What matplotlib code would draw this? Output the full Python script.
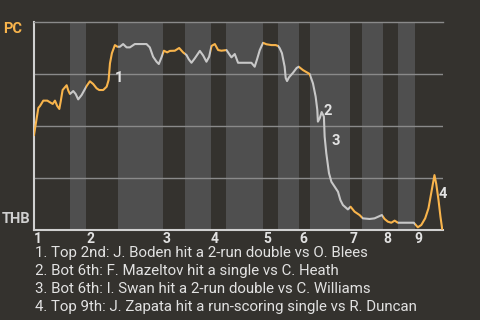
import matplotlib
matplotlib.use("Agg")
import matplotlib.pyplot as plt
import numpy as np

# win probability for PC (percent) against pitch number
pitch = [0, 2.9, 4.0, 6.2, 8.9, 11.1, 12.5, 14.0, 15.5, 16.9, 17.8, 19.1, 21.8, 22.9,
         24.0, 26.2, 27.8, 29.5, 31.8, 35.1, 37.3, 39.5, 41.8, 43.5, 46.2, 48.5, 49.8,
         50.7, 52.0, 54.0, 55.7, 57.3, 59.5, 61.8, 64.0, 67.3, 75.1, 77.3, 79.5, 81.8,
         83.3, 85.1, 86.7, 88.9, 90.7, 94.0, 96.9, 99.5, 101.8, 103.3, 105.1, 107.3,
         110.7, 112.9, 115.1, 116.9, 118.5, 120.7, 122.9, 125.1, 128.5, 130.7, 131.8,
         134.0, 136.2, 138.5, 145.1, 147.3, 148.9, 150.7, 152.9, 155.1, 158.5, 161.3,
         162.9, 164.0, 165.5, 167.3, 168.0, 168.9, 170.2, 172.9, 175.3, 176.7, 179.5,
         184.0, 186.2, 188.0, 189.1, 189.5, 190.7, 192.0, 193.5, 194.0, 195.1, 196.9,
         198.5, 200.7, 202.9, 204.5, 206.2, 209.5, 211.3, 214.0, 217.3, 219.5, 224.0,
         227.3, 232.2, 234.0, 236.2, 238.5, 240.7, 242.9, 247.3, 253.5, 256.2, 258.5,
         261.1, 263.3, 265.5, 267.3, 268.5, 270.0, 271.3, 272.5, 273.0]
wp = [45.7, 58.7, 59.6, 62.2, 62.2, 61.2, 60.6, 62.2, 59.6, 58.2, 61.7, 67.3, 69.6, 67.0,
      65.4, 66.8, 65.4, 62.8, 64.9, 69.2, 71.5, 70.2, 68.1, 67.3, 67.3, 68.9, 72.1,
      80.1, 85.0, 88.9, 88.1, 88.1, 89.4, 87.8, 87.8, 89.4, 89.4, 87.8, 83.3, 80.9,
      79.8, 83.0, 86.2, 85.4, 86.1, 86.2, 87.5, 85.4, 84.1, 82.1, 80.4, 82.5,
      86.1, 83.9, 80.9, 83.3, 88.5, 89.4, 86.5, 86.2, 86.5, 84.1, 83.0,
      84.6, 80.4, 80.4, 80.4, 78.5, 82.1, 86.5, 90.0, 89.3, 88.9, 88.9,
      88.5, 87.4, 85.0, 78.5, 73.1, 71.6, 73.4, 75.6, 77.9, 78.5, 76.9,
      75.0, 70.5, 64.1, 57.7, 52.1, 53.7, 56.7, 54.5, 44.9, 36.9, 27.3,
      23.2, 20.8, 18.4, 14.4, 12.0, 9.9, 11.2, 8.8, 7.2, 5.6, 5.3,
      5.6, 7.2, 5.3, 4.0, 3.5, 4.5, 3.5, 3.5, 3.5, 1.3, 2.4,
      5.6, 10.4, 19.2, 26.4, 22.1, 14.4, 6.4, 0.3, 0.0]

# half-inning boundaries (pitch number)
top_start = [0, 35, 86, 118, 153, 177, 211, 233, 254]
bot_start = [24, 56, 101, 128, 163, 184, 219, 243]
game_end = 273
inning_labels = ["1", "2", "3", "4", "5", "6", "7", "8", "9"]

event_pitch = [50.0, 189.5, 194.0, 268.5]
events = [
    "1. Top 2nd: J. Boden hit a 2-run double vs O. Blees",
    "2. Bot 6th: F. Mazeltov hit a single vs C. Heath",
    "3. Bot 6th: I. Swan hit a 2-run double vs C. Williams",
    "4. Top 9th: J. Zapata hit a run-scoring single vs R. Duncan",
]

BG = "#34322e"
BAND = "#4f4f4f"
ORANGE = "#f8b44c"
GREY = "#c8c8c8"
TXT = "#e2e2e2"

plt.rcParams["font.family"] = ["Roboto", "DejaVu Sans"]

fig = plt.figure(figsize=(4.8, 3.2), dpi=100, facecolor=BG)
ax = fig.add_axes([34 / 480, 1 - 230 / 320, 409 / 480, 208 / 320])
ax.set_facecolor(BG)
ax.set_xlim(0, game_end)
ax.set_ylim(0, 100)

# light bands for bottom halves, invisible ones for top halves (used for clipping)
bot_ends = top_start[1:]
top_ends = bot_start + [game_end]
bot_spans = [ax.axvspan(s, e, color=BAND, lw=0, zorder=0) for s, e in zip(bot_start, bot_ends)]
top_spans = [ax.axvspan(s, e, facecolor="none", lw=0, zorder=0) for s, e in zip(top_start, top_ends)]

for y in [25, 50, 75]:
    ax.axhline(y, color="#8a8a8a", lw=1, zorder=1)

for sp in bot_spans:
    ln, = ax.plot(pitch, wp, color=GREY, lw=1.5, zorder=3, solid_joinstyle="round")
    ln.set_clip_path(sp)
for sp in top_spans:
    ln, = ax.plot(pitch, wp, color=ORANGE, lw=1.5, zorder=3, solid_joinstyle="round")
    ln.set_clip_path(sp)

# event markers
offsets = [(4, -1), (4, 8), (5, -3), (2, -7)]
for i, (ep, off) in enumerate(zip(event_pitch, offsets)):
    ey = np.interp(ep, pitch, wp)
    ax.annotate(str(i + 1), xy=(ep, ey), xytext=off, textcoords="offset points",
                color=TXT, fontsize=10.5, fontweight="bold", va="center", ha="left", zorder=4)

ax.spines["right"].set_visible(False)
ax.spines["top"].set_color("#8a8a8a")
ax.spines["top"].set_linewidth(1)
for s in ["left", "bottom"]:
    ax.spines[s].set_color("#d0d0d0")
    ax.spines[s].set_linewidth(1.5)

ax.set_yticks([])
ax.set_xticks(top_start)
ax.set_xticklabels(inning_labels, ha="left", color=TXT, fontsize=10, fontweight="bold")
ax.tick_params(axis="x", length=0, pad=1.5)

fig.text(3 / 480, 1 - 29 / 320, "PC", color=ORANGE, fontsize=10.5, fontweight="bold", va="center")
fig.text(2 / 480, 1 - 219 / 320, "THB", color="#d0d0d0", fontsize=10.5, fontweight="bold", va="center")

for i, t in enumerate(events):
    fig.text(35 / 480, 1 - (253 + 18 * i) / 320, t, color=TXT, fontsize=10.8, va="center")

fig.savefig("out.png", dpi=100, facecolor=BG)
